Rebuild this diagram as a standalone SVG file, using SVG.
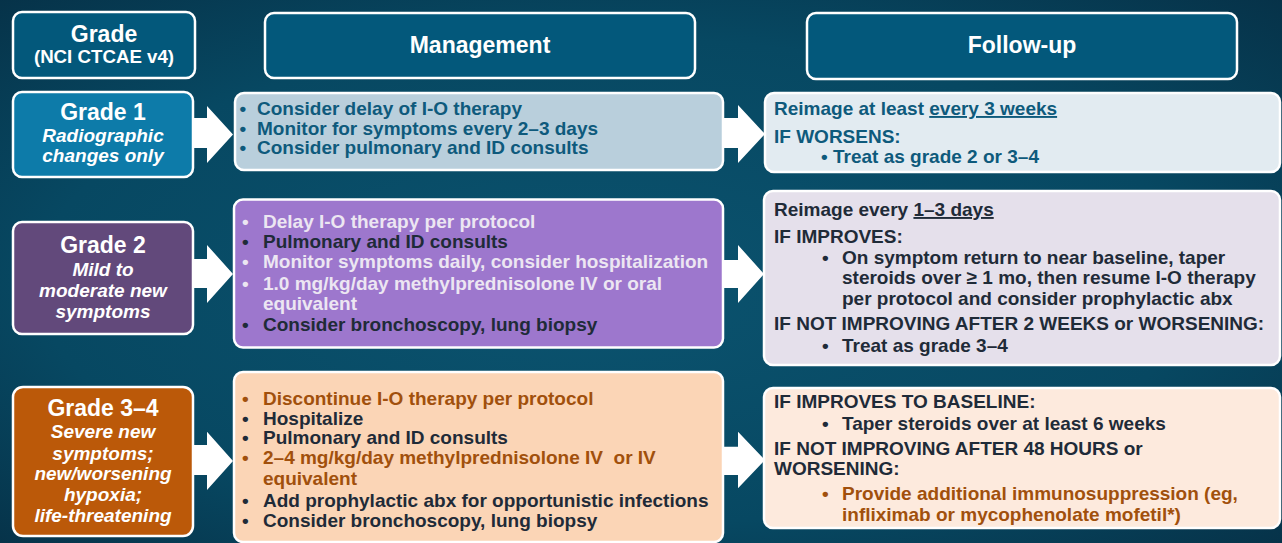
<svg xmlns="http://www.w3.org/2000/svg" width="1282" height="543" viewBox="0 0 1282 543">
<defs>
<radialGradient id="bg" cx="0.5" cy="0.5" r="0.75" fx="0.45" fy="0.55">
<stop offset="0" stop-color="#0b536f"/>
<stop offset="0.6" stop-color="#074862"/>
<stop offset="1" stop-color="#062f45"/>
</radialGradient>
<style>
.t{font-family:"Liberation Sans",Arial,sans-serif;font-weight:bold}
.h{font-size:23px;fill:#fff;text-anchor:middle}
.g{font-size:23px;fill:#fff;text-anchor:middle}
.gi{font-size:19px;fill:#fff;text-anchor:middle;font-style:italic}
.b{font-size:19px}
.box{stroke:#fff;stroke-width:2.5}
.hbox{fill:#03587b;stroke:#fff;stroke-width:2.5}
.blue{fill:#0e5a7c}
.lav{fill:#ece6f2}
.dk{fill:#1f2b38}
.br{fill:#a1500c}
.arr{fill:#fff}
</style>
</defs>
<rect width="1282" height="543" fill="url(#bg)"/>

<g id="hdr-grade">
<rect class="hbox" x="13" y="12" width="182" height="66" rx="9"/>
<text class="t h" x="104" y="42.3">Grade</text>
<text class="t h" x="104" y="63.3" style="font-size:18.7px">(NCI CTCAE v4)</text>
</g>
<g id="hdr-management">
<rect class="hbox" x="265" y="13" width="430" height="65" rx="9"/>
<text class="t h" x="480" y="53">Management</text>
</g>
<g id="hdr-followup">
<rect class="hbox" x="807" y="13" width="430" height="66" rx="9"/>
<text class="t h" x="1022" y="53">Follow-up</text>
</g>

<g id="connectors">
<polygon class="arr" points="192,118 207,118 207,106 233,134.5 207,163 207,148 192,148"/>
<polygon class="arr" points="722,118 738,118 738,105 765,134 738,163 738,148 722,148"/>
<polygon class="arr" points="192,259 207,259 207,245 233,274 207,303 207,288 192,288"/>
<polygon class="arr" points="722,260 738,260 738,245 764,274 738,303 738,288 722,288"/>
<polygon class="arr" points="192,445 207,445 207,431.7 233,461 207,490 207,475 192,475"/>
<polygon class="arr" points="722,446.7 738,446.7 738,431.7 765,460 738,488.3 738,475 722,475"/>
</g>

<g id="grade1">
<rect class="box" x="13" y="92" width="180" height="85" rx="9" fill="#0d7ba9"/>
<text class="t g" x="103" y="120">Grade 1</text>
<text class="t gi" x="103" y="141.7">Radiographic</text>
<text class="t gi" x="103" y="161.7">changes only</text>
</g>
<g id="mgmt1">
<rect class="box" x="235" y="93" width="488" height="77" rx="9" fill="#b9cfdc"/>
<g class="t b blue">
<text x="239.5" y="115">•</text><text x="257" y="115">Consider delay of I-O therapy</text>
<text x="239.5" y="134.5">•</text><text x="257" y="134.5">Monitor for symptoms every 2–3 days</text>
<text x="239.5" y="154.3">•</text><text x="257" y="154.3">Consider pulmonary and ID consults</text>
</g>
</g>
<g id="follow1">
<rect class="box" x="765" y="93" width="515" height="79" rx="9" fill="#e2ebf1"/>
<g class="t b blue">
<text x="774" y="115">Reimage at least <tspan text-decoration="underline">every 3 weeks</tspan></text>
<text x="774" y="143">IF WORSENS:</text>
<text x="821" y="162.7">•</text><text x="833" y="162.7">Treat as grade 2 or 3–4</text>
</g>
</g>

<g id="grade2">
<rect class="box" x="13" y="222" width="180" height="112" rx="9" fill="#62497b"/>
<text class="t g" x="103" y="253.3">Grade 2</text>
<text class="t gi" x="103" y="276">Mild to</text>
<text class="t gi" x="103" y="296.7">moderate new</text>
<text class="t gi" x="103" y="317.7">symptoms</text>
</g>
<g id="mgmt2">
<rect class="box" x="234" y="199.5" width="489" height="148" rx="9" fill="#9d77cd"/>
<g class="t b">
<text class="lav" x="242" y="227.7">•</text><text class="lav" x="263" y="227.7">Delay I-O therapy per protocol</text>
<text class="dk" x="242" y="248.3">•</text><text class="dk" x="263" y="248.3">Pulmonary and ID consults</text>
<text class="lav" x="242" y="268.3">•</text><text class="lav" x="263" y="268.3">Monitor symptoms daily, consider hospitalization</text>
<text class="lav" x="242" y="290">•</text><text class="lav" x="263" y="290">1.0 mg/kg/day methylprednisolone IV or oral</text>
<text class="lav" x="263" y="310">equivalent</text>
<text class="dk" x="242" y="330.5">•</text><text class="dk" x="263" y="330.5">Consider bronchoscopy, lung biopsy</text>
</g>
</g>
<g id="follow2">
<rect class="box" x="764" y="191" width="516" height="174" rx="9" fill="#e5e0eb"/>
<g class="t b dk">
<text x="774" y="216">Reimage every <tspan text-decoration="underline">1–3 days</tspan></text>
<text x="774" y="242.7">IF IMPROVES:</text>
<text x="822" y="264">•</text><text x="842" y="264">On symptom return to near baseline, taper</text>
<text x="842" y="283.5">steroids over ≥ 1 mo, then resume I-O therapy</text>
<text x="842" y="305">per protocol and consider prophylactic abx</text>
<text x="774" y="330">IF NOT IMPROVING AFTER 2 WEEKS or WORSENING:</text>
<text x="822" y="351.7">•</text><text x="842" y="351.7">Treat as grade 3–4</text>
</g>
</g>

<g id="grade34">
<rect class="box" x="13" y="387" width="180" height="149" rx="10" fill="#bb5909"/>
<text class="t g" x="103" y="416">Grade 3–4</text>
<text class="t gi" x="103" y="438.3">Severe new</text>
<text class="t gi" x="103" y="459.5">symptoms;</text>
<text class="t gi" x="103" y="480">new/worsening</text>
<text class="t gi" x="103" y="500.5">hypoxia;</text>
<text class="t gi" x="103" y="521.5">life-threatening</text>
</g>
<g id="mgmt34">
<rect class="box" x="234" y="372" width="489" height="170" rx="9" fill="#fbd5b6"/>
<g class="t b">
<text class="br" x="242" y="405">•</text><text class="br" x="263" y="405">Discontinue I-O therapy per protocol</text>
<text class="dk" x="242" y="424.5">•</text><text class="dk" x="263" y="424.5">Hospitalize</text>
<text class="dk" x="242" y="444">•</text><text class="dk" x="263" y="444">Pulmonary and ID consults</text>
<text class="br" x="242" y="463.5">•</text><text class="br" x="263" y="463.5">2–4 mg/kg/day methylprednisolone IV&#160; or IV</text>
<text class="br" x="263" y="485">equivalent</text>
<text class="dk" x="242" y="506.7">•</text><text class="dk" x="263" y="506.7">Add prophylactic abx for opportunistic infections</text>
<text class="dk" x="242" y="527">•</text><text class="dk" x="263" y="527">Consider bronchoscopy, lung biopsy</text>
</g>
</g>
<g id="follow34">
<rect class="box" x="764" y="388" width="516" height="140" rx="9" fill="#fdeadd"/>
<g class="t b">
<text class="dk" x="774" y="408.3">IF IMPROVES TO BASELINE:</text>
<text class="dk" x="822" y="430">•</text><text class="dk" x="842" y="430">Taper steroids over at least 6 weeks</text>
<text class="dk" x="774" y="455">IF NOT IMPROVING AFTER 48 HOURS or</text>
<text class="dk" x="774" y="475">WORSENING:</text>
<text class="br" x="822" y="500">•</text><text class="br" x="842" y="500">Provide additional immunosuppression (eg,</text>
<text class="br" x="842" y="520.5">infliximab or mycophenolate mofetil*)</text>
</g>
</g>
</svg>
